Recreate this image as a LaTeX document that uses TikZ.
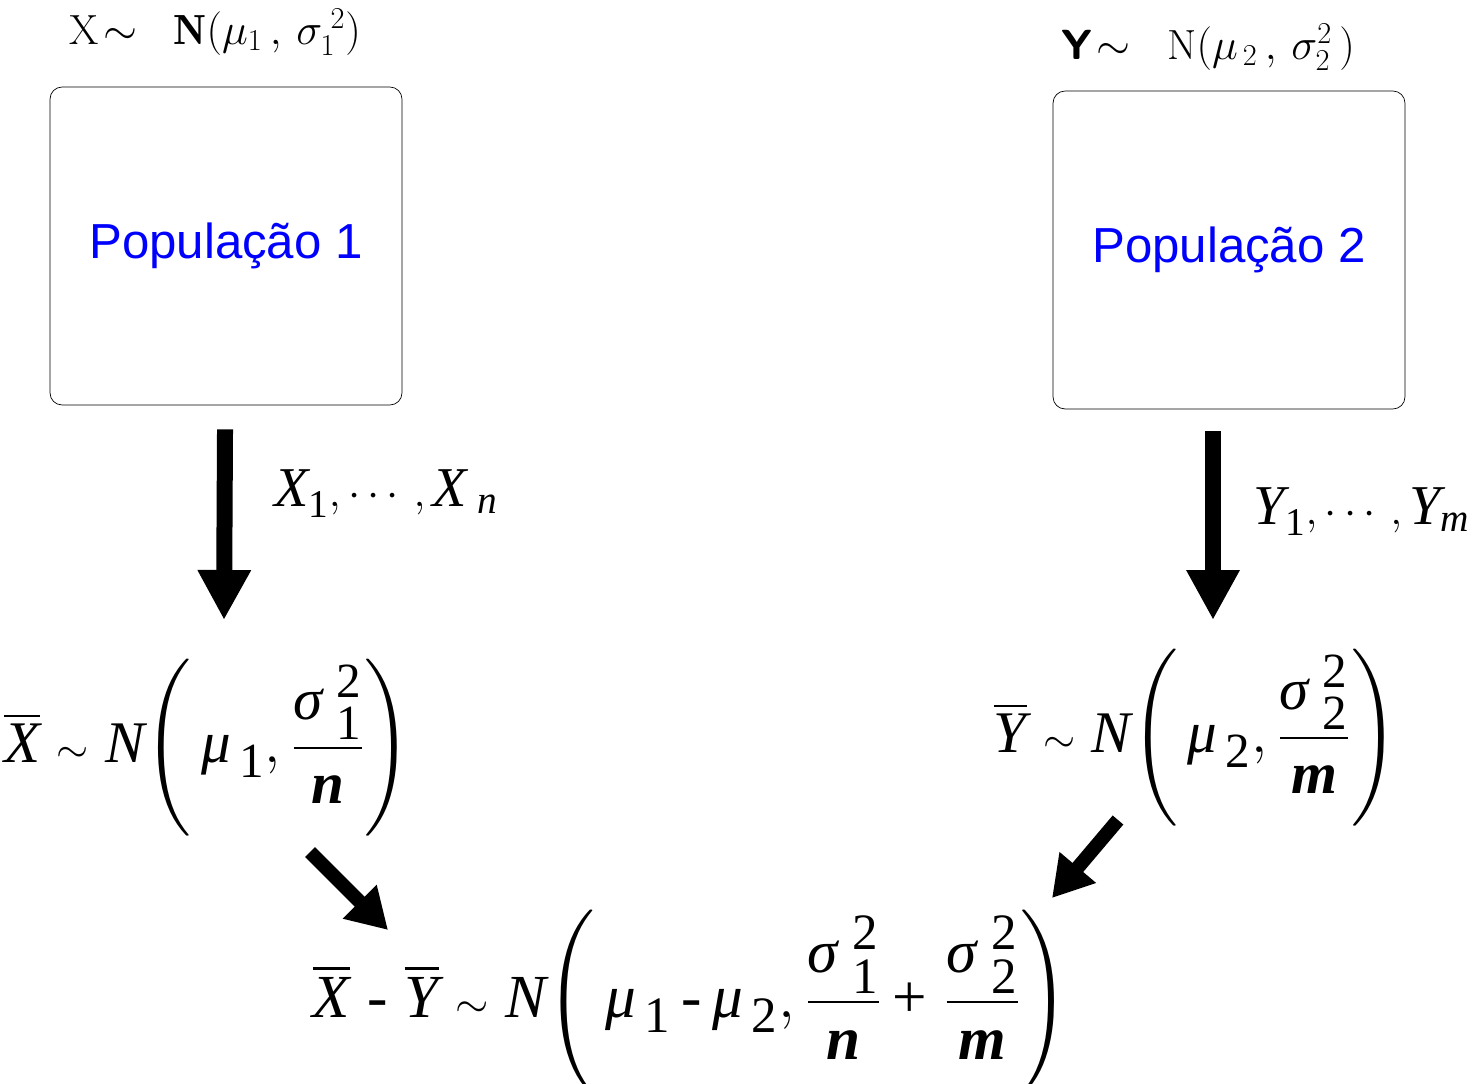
\documentclass[tikz,border=0pt]{standalone}
\usepackage{amsmath}
\usepackage{fontspec}
\newfontfamily\popfont{Liberation Sans}
\newfontfamily\tmfont{Liberation Serif}
\usetikzlibrary{arrows.meta,positioning}
\newcommand{\tallstrut}{\rule[-0.8cm]{0pt}{1.73cm}}
\newcommand{\tv}[1]{\text{\tmfont\itshape #1}}
\newcommand{\tn}[1]{\text{\tmfont #1}}
\newcommand{\tb}[1]{\text{\tmfont\bfseries\itshape #1}}
\newcommand{\tsim}{\mathrel{\scalebox{0.7}{$\sim$}}}
\newcommand{\lawtext}[2][1.35]{\scalebox{#1}{$#2$}}
\begin{document}
\begin{tikzpicture}[x=0.02cm,y=-0.02cm]
    \tikzset{population/.style = {draw=black,rounded corners=0.24cm,minimum width=7.04cm,minimum height=6.36cm,inner sep=0pt,font=\popfont\fontsize{28}{32}\selectfont,text=blue},
        dist/.style = {inner sep=0pt,font=\fontsize{24}{28}\selectfont},
        sample/.style = {inner sep=0pt,font=\fontsize{32}{36}\selectfont},
        law/.style = {inner sep=0pt,font=\fontsize{24.88}{30}\selectfont},
        bigarrow/.style = {line width=0.32cm,-{Triangle[length=1cm,width=1cm]}},
        diagarrow/.style = {line width=0.28cm,-{Triangle[length=0.8cm,width=0.9cm]}}}
    \useasboundingbox (0,0) rectangle (1474,1084);
    % populations
    \node[population] (pop1) at (226,246) {População 1};
    \node[population] (pop2) at (1229,250) {População 2};
    \node[dist] (lab1) at (215,32) {$\mathrm{X}\!\sim\;\; \mathbf{N}(\mu_1\,,\,\sigma_1^{\;2})$};
    \node[dist] (lab2) at (1208,47) {$\boldsymbol{\mathsf{Y}}\!\sim\;\; \mathrm{N}(\mu_{\,2}\,,\,\sigma_2^{2}\,)$};
    % samples
    \node[sample] (xs) at (386,494) {$\tv{X}_{\tn{1}},\cdots,\tv{X}_{\;\tv{n}}$};
    \node[sample] (ys) at (1362,512) {$\tv{Y}_{\tn{1}},\cdots,\tv{Y}_{\tv{m}}$};
    % laws of the means
    \node[law] (xbar) at (208,748) {\lawtext{\overline{\tv{X}}\tsim\tv{N}\!\left(\tallstrut\,\tv{μ}_{\,\tn{1}},\dfrac{\tv{σ}_{\;\tn{1}}^{\;\tn{2}}}{\tb{n}}\right)}};
    \node[law] (ybar) at (1196,738) {\lawtext{\overline{\tv{Y}}\tsim\tv{N}\!\left(\tallstrut\,\tv{μ}_{\,\tn{2}},\dfrac{\tv{σ}_{\;\tn{2}}^{\;\tn{2}}}{\tb{m}}\right)}};
    \node[law] (diff) at (691,1002) {\lawtext[1.4]{\overline{\tv{X}}\;\tn{-}\;\overline{\tv{Y}}\tsim\tv{N}\!\left(\tallstrut\,\tv{μ}_{\,\tn{1}}\,\tn{-}\,\tv{μ}_{\,\tn{2}},\dfrac{\tv{σ}_{\;\tn{1}}^{\;\tn{2}}}{\tb{n}}\,\tn{+}\;\dfrac{\tv{σ}_{\;\tn{2}}^{\;\tn{2}}}{\tb{m}}\right)}};
    % arrows
    \coordinate (xtip) at (224,620);
    \coordinate (ytip) at (1213,620);
    \draw[bigarrow,shorten <=0.48cm] (pop1) -- (xtip);
    \draw[bigarrow,shorten <=0.44cm] (pop2.south -| ytip) -- (ytip);
    \coordinate (a1) at (310,852);
    \coordinate (b1) at (388,930);
    \coordinate (a2) at (1118,820);
    \coordinate (b2) at (1052,898);
    \draw[diagarrow] (a1) -- (b1);
    \draw[diagarrow] (a2) -- (b2);
\end{tikzpicture}
\end{document}
